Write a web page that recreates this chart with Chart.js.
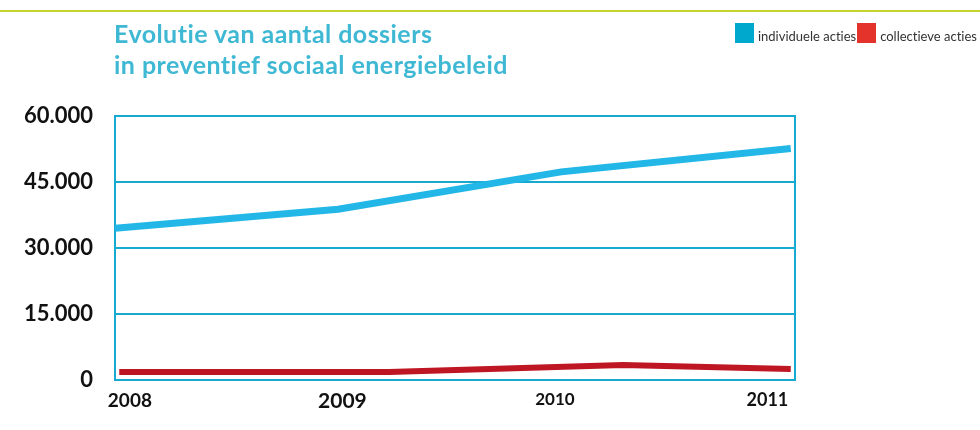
<!DOCTYPE html>
<html>
<head>
<meta charset="utf-8">
<title>Evolutie van aantal dossiers</title>
<script src="https://cdn.jsdelivr.net/npm/chart.js@4.4.1/dist/chart.umd.min.js"></script>
<style>
    html, body { margin: 0; padding: 0; background: #fff; }
    #wrap { position: relative; width: 980px; height: 430px; overflow: hidden; font-family: Lato, sans-serif; }
    .top-rule { position: absolute; left: 0; top: 10px; width: 980px; height: 2px; background: #c6d52c; }
    h1 { position: absolute; left: 114px; top: 18px; margin: 0; font-size: 25px; line-height: 31px; letter-spacing: 0.45px; font-weight: 700; color: #3fb8d4; z-index: 2; font-variant-ligatures: none; }
    .legend { position: absolute; right: 3px; top: 23px; display: flex; align-items: flex-end; font-size: 13px; line-height: 13px; color: #333; z-index: 2; font-variant-ligatures: none; }
    .legend .box { width: 19px; height: 20px; margin-right: 4px; }
    .legend .item { display: flex; align-items: flex-end; margin-left: 1px; }
    #chart-box { position: absolute; left: 0; top: 0; width: 980px; height: 430px; }
</style>
</head>
<body>
<div id="wrap">
    <div class="top-rule"></div>
    <h1>Evolutie van aantal dossiers<br>in preventief sociaal energiebeleid</h1>
    <div class="legend" id="legend"></div>
    <div id="chart-box"><canvas id="dossierChart"></canvas></div>
</div>
<script>
const xTickValues = [2008, 2009, 2010, 2011];
const xTickLabels = ['2008', '2009', '2010', '2011'];
const yTickValues = [0, 15000, 30000, 45000, 60000];
const yTickLabels = ['0', '15.000', '30.000', '45.000', '60.000'];

const seriesNames = ['individuele acties', 'collectieve acties'];

const individueleX = [2007.93, 2008.98, 2010.03, 2011.11];
const individueleY = [34500, 38800, 47300, 52600];

const collectieveX = [2007.95, 2009.22, 2010.32, 2011.11];
const collectieveY = [1800, 1800, 3400, 2500];

const gridBlue = '#17a9cf';
const lineColors = ['#22b7e6', '#be1622'];
const legendColors = ['#00a8ce', '#e3332b'];
const xLabelSizes = [19, 21, 17, 18];

// legend (html, built from the series names)
document.getElementById('legend').innerHTML = seriesNames.map((name, i) => `
    <div class="item"><div class="box" style="background:${legendColors[i]}"></div><span>${name}</span></div>
`).join('');

const toPoints = (xs, ys) => xs.map((x, i) => ({ x: x, y: ys[i] }));

// right edge of the frame
const frameRight = {
    id: 'frameRight',
    beforeDatasetsDraw(chart) {
        const { ctx, chartArea } = chart;
        ctx.save();
        ctx.strokeStyle = gridBlue;
        ctx.lineWidth = 2;
        ctx.beginPath();
        ctx.moveTo(chartArea.right, chartArea.top - 1);
        ctx.lineTo(chartArea.right, chartArea.bottom + 1);
        ctx.stroke();
        ctx.restore();
    }
};

new Chart(document.getElementById('dossierChart'), {
    type: 'line',
    data: {
        datasets: [
            {
                label: seriesNames[0],
                data: toPoints(individueleX, individueleY),
                borderColor: lineColors[0],
                backgroundColor: legendColors[0],
                borderWidth: 7,
                pointRadius: 0,
                tension: 0
            },
            {
                label: seriesNames[1],
                data: toPoints(collectieveX, collectieveY),
                borderColor: lineColors[1],
                backgroundColor: legendColors[1],
                borderWidth: 6,
                pointRadius: 0,
                tension: 0
            }
        ]
    },
    options: {
        responsive: true, maintainAspectRatio: false,
        animation: false,
        layout: { padding: { top: 116, right: 185, bottom: 0, left: 0 } },
        scales: {
            x: {
                type: 'linear',
                min: 2007.93,
                max: 2011.13,
                afterBuildTicks: (scale) => { scale.ticks = xTickValues.map(v => ({ value: v })); },
                afterFit: (scale) => { scale.height = 50; },
                grid: { display: false, drawTicks: false },
                border: { display: false },
                ticks: {
                    padding: 9,
                    color: '#111',
                    font: (c) => ({ family: 'Lato', weight: 'bold', size: xLabelSizes[c.index] || 18 }),
                    callback: (v, i) => xTickLabels[i]
                }
            },
            y: {
                min: 0,
                max: 60000,
                afterBuildTicks: (scale) => { scale.ticks = yTickValues.map(v => ({ value: v })); },
                afterFit: (scale) => { scale.width = 115; },
                grid: { color: gridBlue, lineWidth: 2, drawTicks: false },
                border: { display: true, color: gridBlue, width: 2 },
                ticks: {
                    padding: 22,
                    color: '#111',
                    font: { family: 'Lato', weight: 'bold', size: 22 },
                    callback: (v, i) => yTickLabels[i]
                }
            }
        },
        plugins: {
            legend: { display: false },
            tooltip: { enabled: false }
        }
    },
    plugins: [frameRight]
});
</script>
</body>
</html>
